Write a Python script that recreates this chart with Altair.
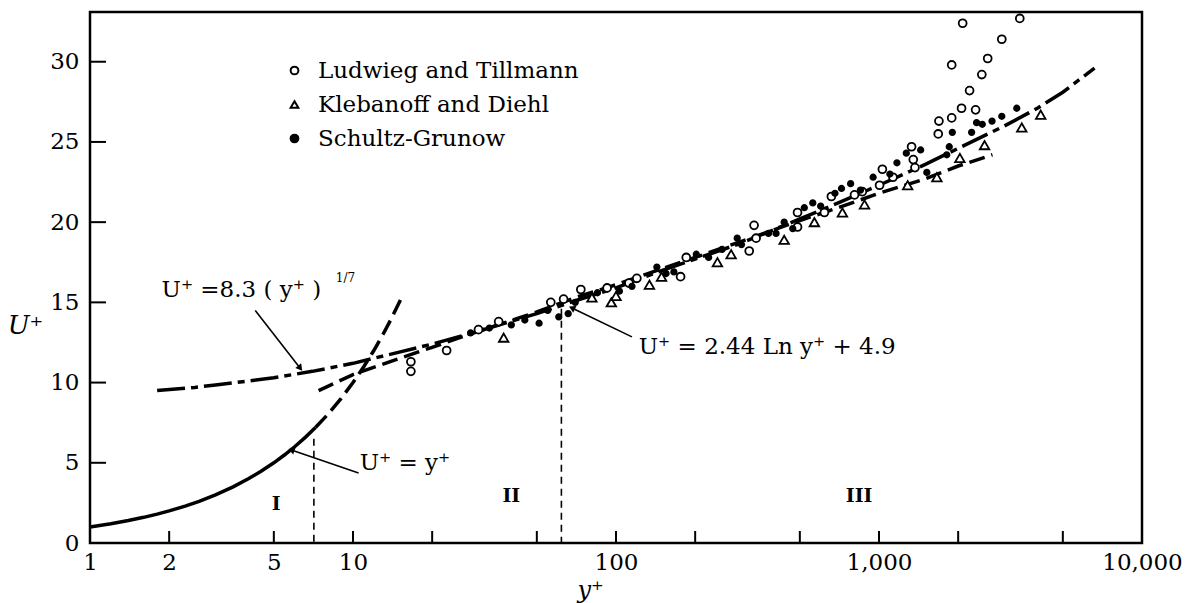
import altair as alt
import pandas as pd

# ---------------- data ----------------
# Ludwieg and Tillmann (open circles)
lt_y = [16.6, 16.6, 22.7, 30, 35.8, 56.5, 63.2, 73.5, 92.5, 112, 120, 176, 185, 321, 341,
        335, 490, 490, 620, 659, 807, 864, 1005, 1030, 1130, 1350, 1370, 1330, 1680, 1690,
        1890, 2060, 2330, 2210, 2460, 2590, 1890, 2930, 2080, 3430]
lt_u = [11.3, 10.7, 12.0, 13.3, 13.8, 15.0, 15.2, 15.8, 15.9, 16.2, 16.5, 16.6, 17.8, 18.2, 19.0,
        19.8, 19.7, 20.6, 20.6, 21.6, 21.7, 21.9, 22.3, 23.3, 22.8, 23.9, 23.4, 24.7, 25.5, 26.3,
        26.5, 27.1, 27.0, 28.2, 29.2, 30.2, 29.8, 31.4, 32.4, 32.7]
# Klebanoff and Diehl (open triangles)
kd_y = [37.4, 81, 96, 100, 134, 149, 243, 274, 436, 568, 726, 881, 1285, 1660, 2030, 2520, 3490, 4120]
kd_u = [12.8, 15.3, 15.0, 15.4, 16.1, 16.6, 17.5, 18.0, 18.9, 20.0, 20.6, 21.1, 22.3, 22.8, 24.0, 24.8, 25.9, 26.7]
# Schultz-Grunow (filled dots)
sg_y = [28, 33, 40, 45, 51, 55, 60.6, 65.8, 70, 85, 103, 115, 143, 155, 166, 202, 225, 253, 289, 300,
        380, 406, 436, 470, 520, 560, 600, 680, 720, 780, 850, 950, 1100, 1170, 1270, 1440, 1520,
        1810, 1850, 1900, 2250, 2350, 2470, 2690, 2930, 3340]
sg_u = [13.1, 13.4, 13.6, 13.9, 13.7, 14.5, 14.1, 14.3, 15.0, 15.6, 15.7, 16.0, 17.2, 16.8, 16.9, 18.0,
        17.8, 18.3, 19.0, 18.6, 19.3, 19.3, 20.0, 19.6, 20.9, 21.2, 21.0, 21.8, 22.1, 22.4, 22.0, 22.8,
        23.0, 23.7, 24.3, 24.5, 23.1, 24.2, 24.7, 25.6, 25.6, 26.2, 26.1, 26.3, 26.6, 27.1]

series_names = ["Ludwieg and Tillmann", "Klebanoff and Diehl", "Schultz-Grunow"]

# Curve U+ = y+ (solid part, then dashed continuation)
lin_y = [1, 1.2, 1.4, 1.6, 1.8, 2, 2.3, 2.6, 3, 3.5, 4, 4.5, 5, 5.5, 6, 6.6, 7.2]
lin_u = [1, 1.2, 1.4, 1.6, 1.8, 2, 2.3, 2.6, 3, 3.5, 4, 4.5, 5, 5.5, 6, 6.6, 7.2]
lind_y = [7.2, 8, 9, 10, 11, 12, 13, 14, 15.3]
lind_u = [7.2, 8, 9, 10, 11, 12, 13, 14, 15.3]
# Curve U+ = 8.3 (y+)^(1/7)
pow_y = [1.8, 2.5, 3, 4, 5, 7, 10, 15, 20, 30, 50, 70, 100, 150, 200, 300, 500, 700, 1000,
         1500, 2000, 3000, 4000, 5000, 6600]
pow_u = [9.5, 9.7, 9.85, 10.1, 10.3, 10.7, 11.2, 11.9, 12.4, 13.2, 14.3, 15.1, 15.9, 17.0, 17.7,
         18.7, 20.2, 21.2, 22.3, 23.6, 24.6, 26.0, 27.1, 28.1, 29.6]
# Curve U+ = 2.44 ln y+ + 4.9
log_y = [7.4, 10, 15, 20, 30, 50, 70, 100, 150, 200, 300, 500, 700, 1000, 1500, 2000, 2700]
log_u = [9.5, 10.5, 11.5, 12.2, 13.2, 14.4, 15.3, 16.1, 17.1, 17.8, 18.8, 20.1, 20.9, 21.8, 22.7, 23.5, 24.2]

# region boundaries (dashed verticals)
vl_y = [7.1, 62]
vl_top = [6.5, 14.6]

# region labels
reg_text = ["I", "II", "III"]
reg_y = [5.1, 40, 840]
reg_u = [2.4, 2.9, 2.9]

# formula annotations
ann_text = ["U\u207a =8.3 ( y\u207a )", "U\u207a = 2.44 Ln y\u207a + 4.9", "U\u207a = y\u207a"]
ann_y = [1.87, 122, 10.6]
ann_u = [15.8, 12.2, 5.0]
sup_text = ["1/7"]
sup_y = [8.6]
sup_u = [16.5]

# arrows: start / end points and head angle
arr_id = ["a", "b", "c"]
arr_y0 = [4.25, 115, 10.5]
arr_u0 = [14.5, 12.85, 4.37]
arr_y1 = [6.3, 68, 5.83]
arr_u1 = [10.9, 14.65, 5.8]
arr_ang = [142, 296, 289]

# axis tick values
x_labels = [1, 2, 5, 10, 100, 1000, 10000]
x_ticks = [2, 5, 10, 20, 50, 100, 200, 500, 1000, 2000, 5000]
y_ticks = [0, 5, 10, 15, 20, 25, 30]

# ---------------- chart ----------------
W, H = 1052, 531
SERIF = "DejaVu Serif"

xscale = alt.Scale(type="log", domain=[1, 10000], nice=False)
yscale = alt.Scale(domain=[0, 33.1], nice=False, zero=False)

xaxis = alt.Axis(values=x_labels, format=",", ticks=False, domain=False, grid=False,
                 labelFont=SERIF, labelFontSize=23, labelColor="black", labelPadding=8,
                 labelFlush=False, labelOverlap=False,
                 title="y\u207a", titleFont=SERIF, titleFontSize=24, titleFontStyle="italic",
                 titleFontWeight="normal", titleColor="black", titleX=500, titleY=47,
                 titleBaseline="middle")
yaxis = alt.Axis(values=y_ticks, ticks=False, domain=False, grid=False,
                 labelFont=SERIF, labelFontSize=23, labelColor="black", labelPadding=11,
                 title="U\u207a", titleFont=SERIF, titleFontSize=26, titleFontStyle="italic",
                 titleFontWeight="normal", titleColor="black", titleAngle=0, titleX=-65,
                 titleY=313, titleAlign="center", titleBaseline="middle")


def X(field="yp"):
    return alt.X(f"{field}:Q", scale=xscale, axis=xaxis)


def Y(field="up"):
    return alt.Y(f"{field}:Q", scale=yscale, axis=yaxis)


pts = pd.concat([
    pd.DataFrame({"yp": lt_y, "up": lt_u, "source": series_names[0], "sz": 62}),
    pd.DataFrame({"yp": kd_y, "up": kd_u, "source": series_names[1], "sz": 90}),
    pd.DataFrame({"yp": sg_y, "up": sg_u, "source": series_names[2], "sz": 30}),
])

leg = alt.Legend(title=None, orient="none", legendX=193, legendY=47, padding=0,
                 labelFont=SERIF, labelFontSize=23, labelColor="black", labelOffset=12,
                 labelLimit=500, rowPadding=10, symbolStrokeWidth=2, symbolSize=60)

points = alt.Chart(pts).mark_point(filled=True, strokeWidth=1.8, opacity=1).encode(
    x=X(), y=Y(),
    shape=alt.Shape("source:N", scale=alt.Scale(domain=series_names,
                                                range=["circle", "triangle-up", "circle"]), legend=leg),
    fill=alt.Fill("source:N", scale=alt.Scale(domain=series_names,
                                              range=["white", "white", "black"]), legend=leg),
    stroke=alt.Stroke("source:N", scale=alt.Scale(domain=series_names,
                                                  range=["black", "black", "black"]), legend=leg),
    size=alt.Size("sz:Q", scale=None),
)


def curve(xs, us, dash=None, width=3.5):
    kw = dict(color="black", strokeWidth=width)
    if dash:
        kw["strokeDash"] = dash
    return alt.Chart(pd.DataFrame({"yp": xs, "up": us})).mark_line(**kw).encode(x=X(), y=Y())


c_lin = curve(lin_y, lin_u)
c_lind = curve(lind_y, lind_u, dash=[16, 7])
c_pow = curve(pow_y, pow_u, dash=[28, 6, 7, 6])
c_log = curve(log_y, log_u, dash=[16, 7])

vlines = alt.Chart(pd.DataFrame({"yp": vl_y, "up": vl_top, "u0": [0, 0]})).mark_rule(
    color="black", strokeWidth=1.6, strokeDash=[7, 5]).encode(x=X(), y=Y(), y2="u0:Q")

xt = alt.Chart(pd.DataFrame({"yp": x_ticks})).mark_rule(color="black", strokeWidth=2).encode(
    x=X(), y=alt.value(H), y2=alt.value(H - 12))
yt = alt.Chart(pd.DataFrame({"up": y_ticks[1:]})).mark_rule(color="black", strokeWidth=2).encode(
    y=Y(), x=alt.value(0), x2=alt.value(16))

regions = alt.Chart(pd.DataFrame({"yp": reg_y, "up": reg_u, "t": reg_text})).mark_text(
    font=SERIF, fontSize=19, fontWeight="bold", color="black").encode(x=X(), y=Y(), text="t:N")

anns = alt.Chart(pd.DataFrame({"yp": ann_y, "up": ann_u, "t": ann_text})).mark_text(
    font=SERIF, fontSize=23, color="black", align="left", baseline="middle").encode(
    x=X(), y=Y(), text="t:N")
sups = alt.Chart(pd.DataFrame({"yp": sup_y, "up": sup_u, "t": sup_text})).mark_text(
    font=SERIF, fontSize=12, color="black", align="left", baseline="middle").encode(
    x=X(), y=Y(), text="t:N")

arr_df = pd.concat([
    pd.DataFrame({"id": arr_id, "yp": arr_y0, "up": arr_u0}),
    pd.DataFrame({"id": arr_id, "yp": arr_y1, "up": arr_u1}),
])
arr_lines = alt.Chart(arr_df).mark_line(color="black", strokeWidth=1.6).encode(
    x=X(), y=Y(), detail="id:N")
arr_heads = alt.Chart(pd.DataFrame({"yp": arr_y1, "up": arr_u1, "ang": arr_ang})).mark_point(
    shape="triangle-up", filled=True, color="black", size=55, opacity=1).encode(
    x=X(), y=Y(), angle=alt.Angle("ang:Q", scale=None))

chart = alt.layer(
    vlines, xt, yt, c_lin, c_lind, c_pow, c_log, points, regions, anns, sups, arr_lines, arr_heads
).properties(
    width=W, height=H,
    padding={"left": 90, "top": 12, "right": 55, "bottom": 60},
    autosize=alt.AutoSizeParams(type="none"),
    background="white",
).configure_view(stroke="black", strokeWidth=2.5)

chart.save("out.html", embed_options={"renderer": "svg", "actions": False})
